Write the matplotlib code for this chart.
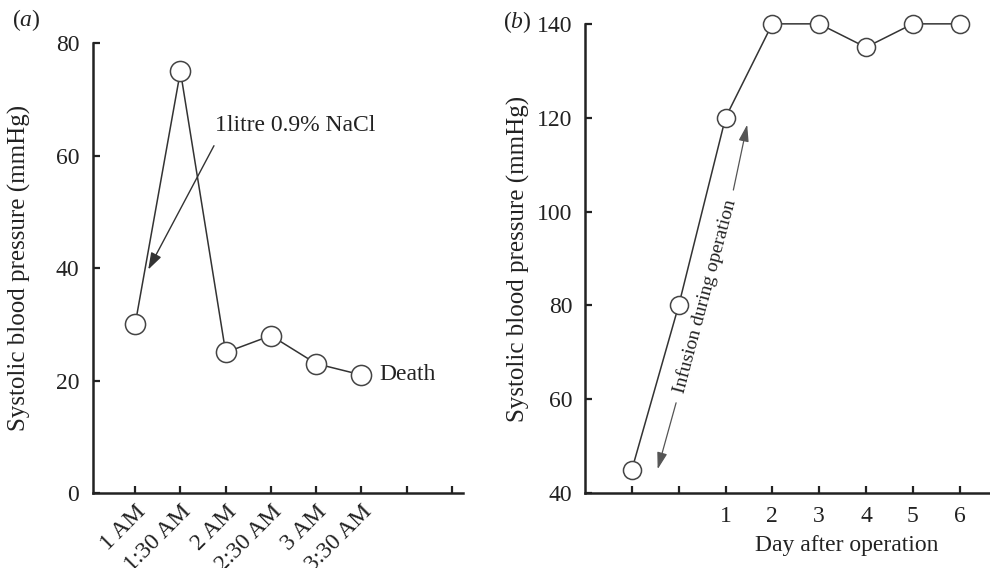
import matplotlib
matplotlib.use("Agg")
from matplotlib import pyplot as plt

# Datos panel (a)
horas = ["1 AM", "1:30 AM", "2 AM", "2:30 AM", "3 AM", "3:30 AM"]
presion_a = [30, 75, 25, 28, 23, 21]
ticks_a = [0, 1, 2, 3, 4, 5, 6, 7]

# Datos panel (b)
dias = [-1, 0, 1, 2, 3, 4, 5, 6]
presion_b = [45, 80, 120, 140, 140, 135, 140, 140]
etiquetas_b = ["", "", "1", "2", "3", "4", "5", "6"]

plt.rcParams["font.family"] = ["Liberation Serif", "DejaVu Serif"]
plt.rcParams["mathtext.fontset"] = "custom"
plt.rcParams["mathtext.rm"] = "Liberation Serif"
plt.rcParams["mathtext.it"] = "Liberation Serif:italic"
plt.rcParams["font.size"] = 17

color_linea = "#333333"
color_texto = "#222222"
tam = 17

fig = plt.figure(figsize=(9.9, 5.68), dpi=100)
ax1 = fig.add_axes([0.094, 0.132, 0.374, 0.792])
ax2 = fig.add_axes([0.591, 0.132, 0.409, 0.826])

for ax in (ax1, ax2):
    ax.spines["top"].set_visible(False)
    ax.spines["right"].set_visible(False)
    ax.spines["left"].set_linewidth(1.8)
    ax.spines["bottom"].set_linewidth(1.8)
    ax.spines["left"].set_color("#222222")
    ax.spines["bottom"].set_color("#222222")
    ax.tick_params(direction="in", length=5, width=1.6, color="#222222",
                   labelcolor=color_texto, labelsize=tam)

# Panel (a)
ax1.plot(range(len(presion_a)), presion_a, color=color_linea, lw=1.1,
         marker="o", markersize=14.5, markerfacecolor="white",
         markeredgecolor="#444444", markeredgewidth=1.1, clip_on=False)
ax1.set_xlim(-0.93, 7.25)
ax1.set_ylim(0, 80)
ax1.set_yticks([0, 20, 40, 60, 80])
ax1.set_xticks(ticks_a)
ax1.set_xticklabels(horas + ["", ""], rotation=45, ha="right",
                    rotation_mode="anchor")
ax1.tick_params(axis="x", pad=6)
ax1.tick_params(axis="y", pad=10)
ax1.set_ylabel("Systolic blood pressure (mmHg)", fontsize=18, color=color_texto)
ax1.yaxis.set_label_coords(-0.198, 0.5)
ax1.yaxis.label.set_va("center")
ax1.annotate("", xy=(0.26, 39.3), xytext=(1.77, 62.2),
             arrowprops=dict(arrowstyle="-|>,head_length=0.6,head_width=0.2",
                             color="#333333", lw=1.0))
ax1.text(1.77, 65.4, "1litre 0.9% NaCl", ha="left", va="center",
         fontsize=tam, color=color_texto)
ax1.text(5.4, 21, "Death", ha="left", va="center", fontsize=tam, color=color_texto)
fig.text(0.012, 0.965, "($\\mathit{a}$)", fontsize=tam, color=color_texto,
         ha="left", va="center")

# Panel (b)
ax2.plot(dias, presion_b, color=color_linea, lw=1.1,
         marker="o", markersize=13, markerfacecolor="white",
         markeredgecolor="#444444", markeredgewidth=1.1, clip_on=False)
ax2.set_xlim(-2, 6.65)
ax2.set_ylim(40, 140)
ax2.set_yticks([40, 60, 80, 100, 120, 140])
ax2.set_xticks(dias)
ax2.set_xticklabels(etiquetas_b)
ax2.tick_params(axis="x", pad=9)
ax2.tick_params(axis="y", pad=9)
ax2.set_ylabel("Systolic blood pressure (mmHg)", fontsize=18, color=color_texto)
ax2.yaxis.set_label_coords(-0.165, 0.5)
ax2.yaxis.label.set_va("center")
ax2.set_xlabel("Day after operation", fontsize=tam, color=color_texto)
ax2.xaxis.set_label_coords(0.647, -0.111)
ax2.xaxis.label.set_va("center")

ax2.text(0.56, 82, "Infusion during operation", rotation=75,
         rotation_mode="anchor", ha="center", va="center", fontsize=14,
         color=color_texto)
ax2.annotate("", xy=(1.475, 119.1), xytext=(1.155, 104),
             arrowprops=dict(arrowstyle="-|>,head_length=0.6,head_width=0.18",
                             color="#555555", lw=0.9))
ax2.annotate("", xy=(-0.466, 44.5), xytext=(-0.04, 59.8),
             arrowprops=dict(arrowstyle="-|>,head_length=0.6,head_width=0.18",
                             color="#555555", lw=0.9))
fig.text(0.508, 0.961, "($\\mathit{b}$)", fontsize=tam, color=color_texto,
         ha="left", va="center")

plt.savefig("out.png", dpi=100)
plt.clf()
